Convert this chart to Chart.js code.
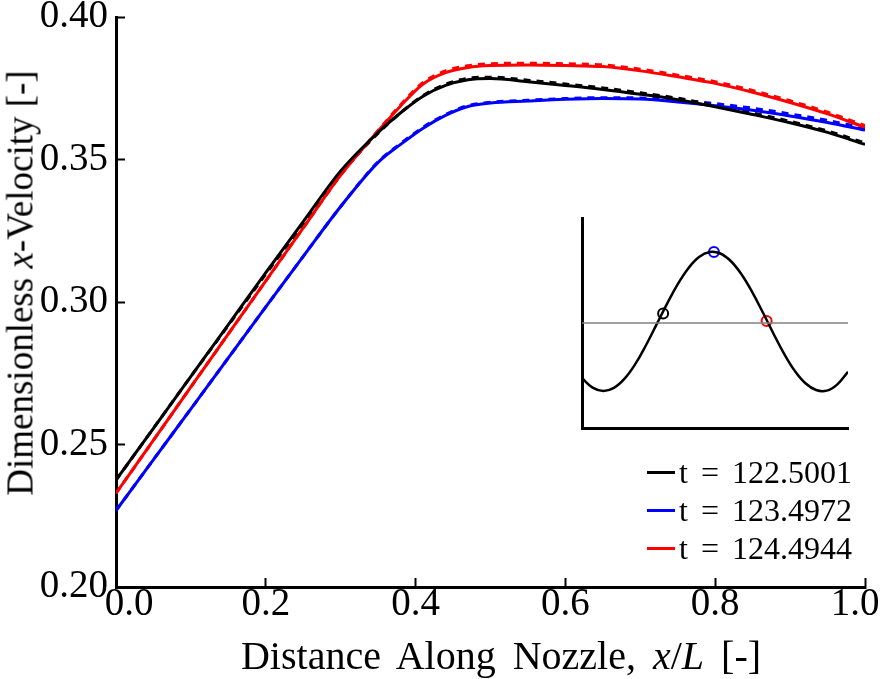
<!DOCTYPE html>
<html>
<head>
<meta charset="utf-8">
<script src="https://cdn.jsdelivr.net/npm/chart.js@4"></script>
<style>
  html, body { margin: 0; padding: 0; background: #fff; }
  #wrap { position: relative; width: 885px; height: 679px; font-family: 'Liberation Serif', serif; color: #000; }
  #main { position: absolute; left: 0; top: 0; }
  #inset { position: absolute; left: 560px; top: 200px; }
  .ylab { position: absolute; left: 20px; top: 283px; transform: translate(-50%, -50%) rotate(-90deg); white-space: nowrap; font-size: 37px; }
  .xlab { position: absolute; left: 501px; top: 655px; transform: translate(-50%, -50%); white-space: nowrap; font-size: 40px; word-spacing: 7px; }
  #legend { position: absolute; right: 33px; top: 453px; font-size: 32px; line-height: 38px; word-spacing: 5px; }
  #legend .row { display: flex; align-items: center; justify-content: flex-end; }
  #legend .sw { display: inline-block; width: 28px; height: 3px; margin-right: 4px; }
</style>
</head>
<body>
<div id="wrap">
  <canvas id="main" width="885" height="679"></canvas>
  <canvas id="inset" width="300" height="240"></canvas>
  <div class="ylab">Dimensionless <i>x</i>-Velocity [-]</div>
  <div class="xlab">Distance Along Nozzle, <i>x</i>/<i>L</i> [-]</div>
  <div id="legend"></div>
</div>
<script>
// --- main chart data ---
const xVals = [0, 0.05, 0.10, 0.15, 0.20, 0.25, 0.30, 0.35, 0.38, 0.41, 0.44, 0.47, 0.50,
               0.55, 0.60, 0.65, 0.70, 0.75, 0.80, 0.85, 0.90, 0.95, 1.00];

const blackSolid = [0.2375, 0.2557, 0.2739, 0.2921, 0.3103, 0.3282, 0.3460, 0.3595, 0.3664, 0.3722, 0.3760, 0.3780, 0.3784,
                    0.3773, 0.3760, 0.3746, 0.3729, 0.3710, 0.3685, 0.3658, 0.3629, 0.3595, 0.3553];
const blackDash  = [0.2375, 0.2557, 0.2739, 0.2918, 0.3098, 0.3274, 0.3450, 0.3592, 0.3664, 0.3724, 0.3764, 0.3785, 0.3789,
                    0.3778, 0.3765, 0.3751, 0.3734, 0.3715, 0.3690, 0.3663, 0.3634, 0.3600, 0.3558];
const blueSolid  = [0.2268, 0.2447, 0.2625, 0.2804, 0.2983, 0.3160, 0.3335, 0.3490, 0.3553, 0.3610, 0.3655, 0.3686, 0.3698,
                    0.3705, 0.3711, 0.3714, 0.3712, 0.3702, 0.3689, 0.3673, 0.3653, 0.3630, 0.3603];
const blueDash   = [0.2268, 0.2447, 0.2625, 0.2804, 0.2983, 0.3160, 0.3335, 0.3492, 0.3556, 0.3613, 0.3658, 0.3689, 0.3701,
                    0.3708, 0.3714, 0.3717, 0.3716, 0.3708, 0.3696, 0.3680, 0.3660, 0.3637, 0.3610];
const redSolid   = [0.2329, 0.2515, 0.2702, 0.2888, 0.3074, 0.3260, 0.3445, 0.3600, 0.3688, 0.3765, 0.3805, 0.3823, 0.3830,
                    0.3832, 0.3830, 0.3826, 0.3811, 0.3790, 0.3767, 0.3736, 0.3700, 0.3660, 0.3613];
const redDash    = [0.2329, 0.2515, 0.2702, 0.2888, 0.3074, 0.3260, 0.3445, 0.3602, 0.3692, 0.3770, 0.3811, 0.3829, 0.3836,
                    0.3838, 0.3836, 0.3832, 0.3817, 0.3796, 0.3773, 0.3742, 0.3706, 0.3666, 0.3619];

const seriesLabels = ['t = 122.5001', 't = 123.4972', 't = 124.4944'];
const seriesColors = ['#000000', '#0000ff', '#ff0000'];

const xTickVals = [0, 0.2, 0.4, 0.6, 0.8, 1.0];
const xTickLabels = ['0.0', '0.2', '0.4', '0.6', '0.8', '1.0'];
const yTickVals = [0.20, 0.25, 0.30, 0.35, 0.40];
const yTickLabels = ['0.20', '0.25', '0.30', '0.35', '0.40'];

// --- inset data (phase sketch) ---
const insetX = [0, 0.04, 0.08, 0.12, 0.16, 0.20, 0.24, 0.28, 0.32, 0.36, 0.40, 0.44, 0.48,
                0.52, 0.56, 0.60, 0.64, 0.68, 0.72, 0.76, 0.80, 0.84, 0.88, 0.92, 0.96, 1.00];
const insetY = [0.238, 0.192, 0.176, 0.191, 0.235, 0.304, 0.393, 0.492, 0.592, 0.685, 0.761, 0.814, 0.838,
                0.831, 0.794, 0.731, 0.647, 0.550, 0.449, 0.353, 0.272, 0.213, 0.181, 0.178, 0.208, 0.268];
const refLineX = [0, 1];
const refLineY = [0.5, 0.5];
const markerX = [0.305, 0.496, 0.694];
const markerY = [0.545, 0.838, 0.509];

const pts = (xs, ys) => xs.map((x, i) => ({ x: x, y: ys[i] }));
const serif = 'Liberation Serif';

function solid(label, color, ys) {
  return { label: label, data: pts(xVals, ys), borderColor: color, borderWidth: 3,
           pointRadius: 0, cubicInterpolationMode: 'monotone', fill: false };
}
function dashed(color, ys) {
  return { label: '', data: pts(xVals, ys), borderColor: color, borderWidth: 3, borderDash: [7, 6],
           pointRadius: 0, cubicInterpolationMode: 'monotone', fill: false };
}

// the reference nudges the end labels of the x axis inwards
const nudgeEndLabels = {
  id: 'nudgeEndLabels',
  beforeDraw(chart) {
    const items = chart.scales.x.getLabelItems();
    if (!items.length || items._nudged) return;
    items[0].options.translation[0] += 13;
    items[items.length - 1].options.translation[0] -= 10;
    items._nudged = true;
  }
};

const mainChart = new Chart(document.getElementById('main').getContext('2d'), {
  type: 'line',
  data: {
    datasets: [
      solid(seriesLabels[0], seriesColors[0], blackSolid),
      solid(seriesLabels[1], seriesColors[1], blueSolid),
      solid(seriesLabels[2], seriesColors[2], redSolid),
      dashed(seriesColors[0], blackDash),
      dashed(seriesColors[1], blueDash),
      dashed(seriesColors[2], redDash)
    ]
  },
  options: {
    responsive: false,
    animation: false,
    layout: { padding: 0 },
    plugins: { legend: { display: false }, tooltip: { enabled: false } },
    scales: {
      x: {
        type: 'linear', min: 0, max: 1,
        afterBuildTicks: s => { s.ticks = xTickVals.map(v => ({ value: v })); },
        // fixed axis band so the plot box lands where the reference has it
        afterFit: s => { s.height = 92; s.paddingLeft = 0; s.paddingRight = 20; },
        ticks: { callback: (v, i) => xTickLabels[i], color: '#000', padding: 10, maxRotation: 0, autoSkip: false,
                 font: { family: serif, size: 39, lineHeight: 0.87 } },
        grid: { drawOnChartArea: false, tickLength: -9, tickWidth: 2, color: '#000' },
        border: { display: true, color: '#000', width: 3 }
      },
      y: {
        type: 'linear', min: 0.2, max: 0.4,
        afterBuildTicks: s => { s.ticks = yTickVals.map(v => ({ value: v })); },
        afterFit: s => { s.width = 116; s.paddingTop = 17; s.paddingBottom = 0; },
        ticks: { callback: (v, i) => yTickLabels[i], color: '#000', padding: 17, autoSkip: false,
                 font: { family: serif, size: 39, lineHeight: 0.87 } },
        grid: { drawOnChartArea: false, tickLength: -9, tickWidth: 2, color: '#000' },
        border: { display: true, color: '#000', width: 3 }
      }
    }
  },
  plugins: [nudgeEndLabels]
});

// legend built from the solid datasets
const legendEl = document.getElementById('legend');
mainChart.data.datasets.slice(0, 3).forEach(ds => {
  const row = document.createElement('div');
  row.className = 'row';
  row.innerHTML = `<span class="sw" style="background:${ds.borderColor}"></span><span>${ds.label}</span>`;
  legendEl.appendChild(row);
});

// inset sketch
new Chart(document.getElementById('inset').getContext('2d'), {
  type: 'line',
  data: {
    datasets: [
      { data: pts(refLineX, refLineY), borderColor: '#808080', borderWidth: 1.5, pointRadius: 0 },
      { data: pts(insetX, insetY), borderColor: '#000', borderWidth: 2.5, pointRadius: 0, tension: 0.4 },
      { data: pts(markerX, markerY), showLine: false, pointRadius: 5, pointBorderWidth: 2,
        pointBackgroundColor: 'rgba(0,0,0,0)', pointBorderColor: seriesColors }
    ]
  },
  options: {
    responsive: false,
    animation: false,
    layout: { padding: { left: 0, top: 18, right: 12, bottom: 0 } },
    plugins: { legend: { display: false }, tooltip: { enabled: false } },
    scales: {
      x: { type: 'linear', min: 0, max: 1, afterFit: s => { s.height = 12; },
           ticks: { display: false }, grid: { display: false },
           border: { display: true, color: '#000', width: 3 } },
      y: { type: 'linear', min: 0, max: 1, afterFit: s => { s.width = 22; },
           ticks: { display: false }, grid: { display: false },
           border: { display: true, color: '#000', width: 3 } }
    }
  }
});
</script>
</body>
</html>
